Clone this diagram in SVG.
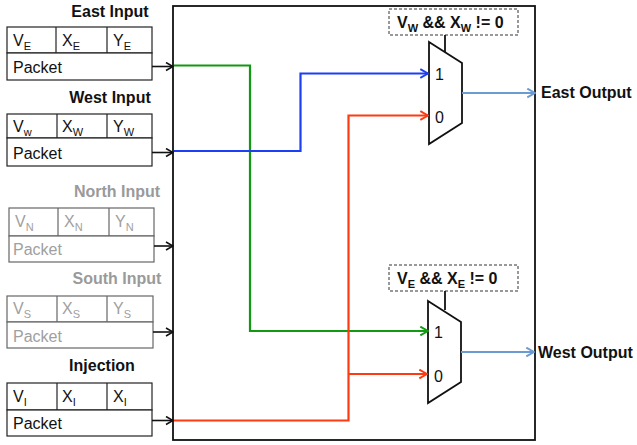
<svg xmlns="http://www.w3.org/2000/svg" width="637" height="445" viewBox="0 0 637 445">
<style>
text{font-family:"Liberation Sans",Arial,sans-serif}
.t{font-size:16px;font-weight:bold;fill:#111;text-anchor:middle}
.tg{font-size:16px;font-weight:bold;fill:#9a9a9a;text-anchor:middle}
.c{font-size:16px;fill:#111}
.cg{font-size:16px;fill:#a0a0a0}
.s{font-size:11px}
.bx{fill:#fff;stroke:#222;stroke-width:1.2}
.bxg{fill:#fff;stroke:#666;stroke-width:1.2}
.in{stroke:#111;stroke-width:1.6;fill:none}
.w{fill:none;stroke-width:2.2}
.mux{fill:#fff;stroke:#111;stroke-width:1.8}
.cond{fill:#fff;stroke:#333;stroke-width:1;stroke-dasharray:3,2}
.ct{font-size:16px;font-weight:bold;fill:#111}
.cs{font-size:11px;font-weight:bold}
.ml{font-size:16px;fill:#111}
.out{font-size:16px;font-weight:bold;fill:#111}
</style>
<defs>
<marker id="ak" viewBox="0 0 10 10" refX="9" refY="5" markerWidth="10" markerHeight="10" markerUnits="userSpaceOnUse" orient="auto"><path d="M2,1 L9,5 L2,9" fill="none" stroke="#111" stroke-width="1.6"/></marker>
<marker id="ag" viewBox="0 0 10 10" refX="9" refY="5" markerWidth="11" markerHeight="11" markerUnits="userSpaceOnUse" orient="auto"><path d="M2,1 L9,5 L2,9" fill="none" stroke="#129912" stroke-width="1.8"/></marker>
<marker id="ab" viewBox="0 0 10 10" refX="9" refY="5" markerWidth="11" markerHeight="11" markerUnits="userSpaceOnUse" orient="auto"><path d="M2,1 L9,5 L2,9" fill="none" stroke="#1a3ff5" stroke-width="1.8"/></marker>
<marker id="ar" viewBox="0 0 10 10" refX="9" refY="5" markerWidth="11" markerHeight="11" markerUnits="userSpaceOnUse" orient="auto"><path d="M2,1 L9,5 L2,9" fill="none" stroke="#ff3a12" stroke-width="1.8"/></marker>
<marker id="ao" viewBox="0 0 10 10" refX="9" refY="5" markerWidth="11" markerHeight="11" markerUnits="userSpaceOnUse" orient="auto"><path d="M2,1 L9,5 L2,9" fill="none" stroke="#6b9bd0" stroke-width="1.8"/></marker>
</defs>
<rect width="637" height="445" fill="#fff"/>

<g id="router">
<rect x="173" y="6" width="362" height="434" fill="#fff" stroke="#111" stroke-width="1.8"/>
</g>

<g id="east-input">
<text class="t" x="110" y="17">East Input</text>
<rect class="bx" x="7" y="27" width="145" height="26"/>
<rect class="bx" x="7" y="53" width="145" height="27"/>
<line x1="56" y1="27" x2="56" y2="53" stroke="#222" stroke-width="1.2"/>
<line x1="107" y1="27" x2="107" y2="53" stroke="#222" stroke-width="1.2"/>
<text class="c" x="13" y="46">V<tspan class="s" dy="4">E</tspan></text>
<text class="c" x="62" y="46">X<tspan class="s" dy="4">E</tspan></text>
<text class="c" x="113" y="46">Y<tspan class="s" dy="4">E</tspan></text>
<text class="c" x="13" y="73">Packet</text>
</g>

<g id="west-input">
<text class="t" x="110" y="103">West Input</text>
<rect class="bx" x="7" y="114" width="145" height="24"/>
<rect class="bx" x="7" y="138" width="145" height="28"/>
<line x1="57" y1="114" x2="57" y2="138" stroke="#222" stroke-width="1.2"/>
<line x1="107" y1="114" x2="107" y2="138" stroke="#222" stroke-width="1.2"/>
<text class="c" x="13" y="132">V<tspan class="s" dy="4">w</tspan></text>
<text class="c" x="62" y="132">X<tspan class="s" dy="4">W</tspan></text>
<text class="c" x="113" y="132">Y<tspan class="s" dy="4">W</tspan></text>
<text class="c" x="13" y="159">Packet</text>
</g>

<g id="north-input">
<text class="tg" x="117" y="197">North Input</text>
<rect class="bxg" x="9" y="208" width="145" height="28"/>
<rect class="bxg" x="9" y="236" width="145" height="26"/>
<line x1="58" y1="208" x2="58" y2="236" stroke="#666" stroke-width="1.2"/>
<line x1="109" y1="208" x2="109" y2="236" stroke="#666" stroke-width="1.2"/>
<text class="cg" x="15" y="227">V<tspan class="s" dy="4">N</tspan></text>
<text class="cg" x="64" y="227">X<tspan class="s" dy="4">N</tspan></text>
<text class="cg" x="115" y="227">Y<tspan class="s" dy="4">N</tspan></text>
<text class="cg" x="13" y="255">Packet</text>
</g>

<g id="south-input">
<text class="tg" x="117" y="284">South Input</text>
<rect class="bxg" x="7" y="296" width="146" height="26"/>
<rect class="bxg" x="7" y="322" width="146" height="26"/>
<line x1="57" y1="296" x2="57" y2="322" stroke="#666" stroke-width="1.2"/>
<line x1="107" y1="296" x2="107" y2="322" stroke="#666" stroke-width="1.2"/>
<text class="cg" x="13" y="314">V<tspan class="s" dy="4">S</tspan></text>
<text class="cg" x="62" y="314">X<tspan class="s" dy="4">S</tspan></text>
<text class="cg" x="113" y="314">Y<tspan class="s" dy="4">S</tspan></text>
<text class="cg" x="13" y="342">Packet</text>
</g>

<g id="injection">
<text class="t" x="102" y="371">Injection</text>
<rect class="bx" x="7" y="383" width="145" height="27"/>
<rect class="bx" x="7" y="410" width="145" height="26"/>
<line x1="57" y1="383" x2="57" y2="410" stroke="#222" stroke-width="1.2"/>
<line x1="107" y1="383" x2="107" y2="410" stroke="#222" stroke-width="1.2"/>
<text class="c" x="13" y="402">V<tspan class="s" dy="4">I</tspan></text>
<text class="c" x="62" y="402">X<tspan class="s" dy="4">I</tspan></text>
<text class="c" x="113" y="402">X<tspan class="s" dy="4">I</tspan></text>
<text class="c" x="13" y="429">Packet</text>
</g>

<g id="mux-east">
<rect class="cond" x="389" y="9" width="129" height="26"/>
<text class="ct" x="397" y="28">V<tspan class="cs" dy="4">W</tspan><tspan dy="-4"> &amp;&amp; X</tspan><tspan class="cs" dy="4">W</tspan><tspan dy="-4"> != 0</tspan></text>
<line x1="445" y1="35" x2="445" y2="52" stroke="#111" stroke-width="1.8"/>
<polygon class="mux" points="429,42 462,63 462,123 429,144"/>
<text class="ml" x="435" y="80">1</text>
<text class="ml" x="435" y="123">0</text>
<text class="out" x="541" y="98">East Output</text>
</g>

<g id="mux-west">
<rect class="cond" x="389" y="265" width="129" height="26"/>
<text class="ct" x="397" y="284">V<tspan class="cs" dy="4">E</tspan><tspan dy="-4"> &amp;&amp; X</tspan><tspan class="cs" dy="4">E</tspan><tspan dy="-4"> != 0</tspan></text>
<line x1="445" y1="291" x2="445" y2="310" stroke="#111" stroke-width="1.8"/>
<polygon class="mux" points="428,301 461,322 461,382 428,403"/>
<text class="ml" x="434" y="338">1</text>
<text class="ml" x="434" y="382">0</text>
<text class="out" x="538" y="358">West Output</text>
</g>

<g id="connectors">
<line class="in" x1="152" y1="66.5" x2="173" y2="66.5" marker-end="url(#ak)"/>
<line class="in" x1="152" y1="152.5" x2="173" y2="152.5" marker-end="url(#ak)"/>
<line class="in" x1="154" y1="246" x2="173" y2="246" marker-end="url(#ak)"/>
<line class="in" x1="153" y1="332" x2="173" y2="332" marker-end="url(#ak)"/>
<line class="in" x1="152" y1="420.5" x2="173" y2="420.5" marker-end="url(#ak)"/>
<polyline class="w" stroke="#129912" points="174,65.5 250,65.5 250,331 428,331" marker-end="url(#ag)"/>
<polyline class="w" stroke="#1a3ff5" points="174,151 300.5,151 300.5,73.5 428,73.5" marker-end="url(#ab)"/>
<polyline class="w" stroke="#ff3a12" points="174,420.5 348.5,420.5 348.5,115.5 428,115.5" marker-end="url(#ar)"/>
<polyline class="w" stroke="#ff3a12" points="348.5,374 427,374" marker-end="url(#ar)"/>
<line class="w" stroke="#6b9bd0" x1="462" y1="93" x2="535" y2="93" marker-end="url(#ao)"/>
<line class="w" stroke="#6b9bd0" x1="461" y1="352" x2="534" y2="352" marker-end="url(#ao)"/>
</g>
</svg>
